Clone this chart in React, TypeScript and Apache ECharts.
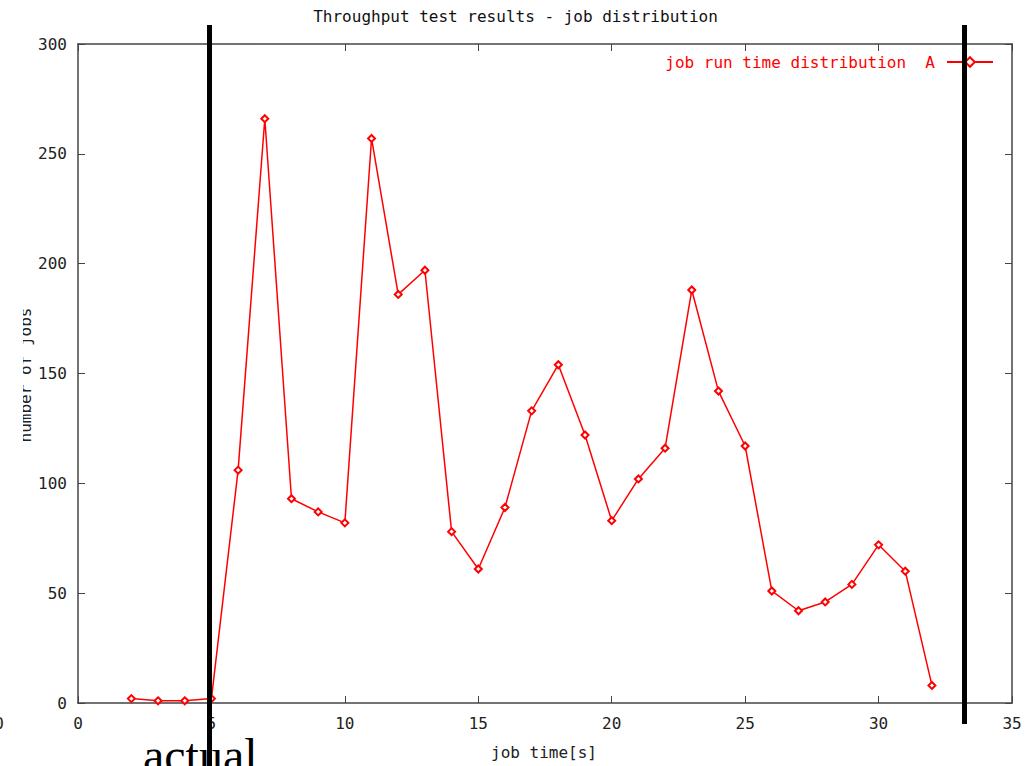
import React, { useEffect, useRef } from "react";
import * as echarts from "echarts";

const chartTitle = "Throughput test results - job distribution";
const seriesName = "job run time distribution  A";
const xAxisTitle = "job time[s]";
const yAxisTitle = "number of jobs";
const jobTimes = [2, 3, 4, 5, 6, 7, 8, 9, 10, 11, 12, 13, 14, 15, 16, 17, 18, 19, 20, 21, 22, 23, 24, 25, 26, 27, 28, 29, 30, 31, 32];
const jobCounts = [2, 1, 1, 2, 106, 266, 93, 87, 82, 257, 186, 197, 78, 61, 89, 133, 154, 122, 83, 102, 116, 188, 142, 117, 51, 42, 46, 54, 72, 60, 8];

const MONO = "'DejaVu Sans Mono', 'Liberation Mono', monospace";

export default function App() {
  const ref = useRef<HTMLDivElement>(null);
  useEffect(() => {
    if (!ref.current) return;
    const chart = echarts.init(ref.current, undefined, { renderer: "svg" });
    const axisLine = { show: true, onZero: false, lineStyle: { color: "#444", width: 1.5 } };
    const axisTick = { show: true, inside: true, length: 7, lineStyle: { color: "#444", width: 1 } };
    chart.setOption({
      animation: false,
      backgroundColor: "#ffffff",
      title: {
        text: chartTitle,
        left: "center",
        top: 3,
        textStyle: { fontFamily: MONO, fontSize: 16, fontWeight: "normal", color: "#111" },
      },
      legend: {
        right: 32,
        top: 49,
        align: "right",
        itemWidth: 46,
        itemHeight: 12,
        itemGap: 10,
        textStyle: { color: "#ff0000", fontFamily: MONO, fontSize: 16, padding: [0, 7, 0, 0] },
        data: [seriesName],
      },
      grid: { left: 78, top: 44, right: 19, bottom: 63, containLabel: false },
      xAxis: [
        {
          type: "value",
          min: 0,
          max: 35,
          interval: 5,
          position: "bottom",
          axisLine,
          axisTick,
          splitLine: { show: false },
          axisLabel: { margin: 12, fontFamily: MONO, fontSize: 16, color: "#222" },
        },
        {
          type: "value",
          min: 0,
          max: 35,
          interval: 5,
          position: "top",
          axisLine,
          axisTick,
          splitLine: { show: false },
          axisLabel: { show: false },
        },
      ],
      yAxis: [
        {
          type: "value",
          min: 0,
          max: 300,
          interval: 50,
          position: "left",
          axisLine,
          axisTick,
          splitLine: { show: false },
          axisLabel: { margin: 11, fontFamily: MONO, fontSize: 16, color: "#222" },
        },
        {
          type: "value",
          min: 0,
          max: 300,
          interval: 50,
          position: "right",
          axisLine,
          axisTick,
          splitLine: { show: false },
          axisLabel: { show: false },
        },
      ],
      series: [
        {
          name: seriesName,
          type: "line",
          xAxisIndex: 0,
          yAxisIndex: 0,
          data: jobTimes.map((t, i) => [t, jobCounts[i]]),
          symbol: "emptyDiamond",
          symbolSize: 7,
          showAllSymbol: true,
          lineStyle: { color: "#ff0000", width: 1.5 },
          itemStyle: { color: "#ff0000", borderColor: "#ff0000", borderWidth: 1 },
          z: 3,
        },
      ],
      graphic: [
        {
          type: "text",
          x: 25,
          y: 375,
          rotation: Math.PI / 2,
          z: 50,
          style: {
            text: yAxisTitle,
            font: `16px ${MONO}`,
            fill: "#222",
            align: "center",
            verticalAlign: "middle",
          },
        },
        { type: "rect", shape: { x: 0, y: 290, width: 23, height: 170 }, style: { fill: "#ffffff" }, z: 51 },
        {
          type: "text",
          x: 544,
          y: 752,
          z: 50,
          style: { text: xAxisTitle, font: `16px ${MONO}`, fill: "#222", align: "center", verticalAlign: "middle" },
        },
        {
          type: "text",
          x: 4,
          y: 723,
          z: 50,
          style: { text: "0", font: `16px ${MONO}`, fill: "#222", align: "right", verticalAlign: "middle" },
        },
        {
          type: "text",
          x: 143,
          y: 755,
          z: 50,
          style: {
            text: "actual",
            font: "48px 'Liberation Serif', 'DejaVu Serif', serif",
            fill: "#000",
            align: "left",
            verticalAlign: "middle",
          },
        },
        { type: "rect", shape: { x: 207, y: 25, width: 5, height: 741 }, style: { fill: "#000" }, z: 100 },
        { type: "rect", shape: { x: 962, y: 25, width: 5, height: 699 }, style: { fill: "#000" }, z: 100 },
      ],
    });
    return () => chart.dispose();
  }, []);
  return <div ref={ref} style={{ position: "fixed", left: 0, top: 0, width: 1031, height: 766 }} />;
}
